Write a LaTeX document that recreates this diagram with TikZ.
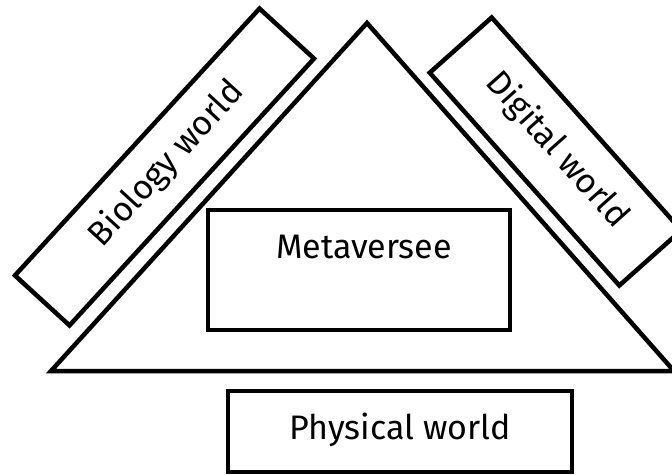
\documentclass[tikz,border=0pt]{standalone}
\usepackage{fontspec}
\setmainfont{Fira Sans}
\begin{document}
\begin{tikzpicture}[x=1pt,y=-1pt,
  outline/.style={draw=black,line width=4.5pt},
  box/.style={outline,rectangle,inner sep=0pt,outer sep=0pt},
  lbl/.style={font=\fontsize{34}{40}\selectfont,inner sep=0pt}]
\useasboundingbox (0,0) rectangle (672,474);
% triangle
\coordinate (tl) at (51,371);
\coordinate (tt) at (367,23);
\coordinate (tr) at (674,371);
\draw[outline] (tl) -- (tt) -- (tr) -- cycle;
% Metaversee
\node[box,minimum width=302pt,minimum height=120pt] (meta) at (359,270) {};
\node[lbl] (metatext) at (364,247) {Metaversee};
% Physical world
\node[box,minimum width=344pt,minimum height=81pt] (phys) at (400,431.5) {};
\node[lbl] (phystext) at (400,430) {Physical world};
% Biology world
\node[box,rotate=47.5,minimum width=362pt,minimum height=74pt] (bio) at (164.5,167) {};
\node[lbl,rotate=47.5] (biotext) at (167,164) {Biology world};
% Digital world
\node[box,rotate=-48.3,minimum width=285pt,minimum height=83pt] (dig) at (555.5,151.5) {};
\node[lbl,rotate=-48.3] (digtext) at (557,150) {Digital world};
\end{tikzpicture}
\end{document}
